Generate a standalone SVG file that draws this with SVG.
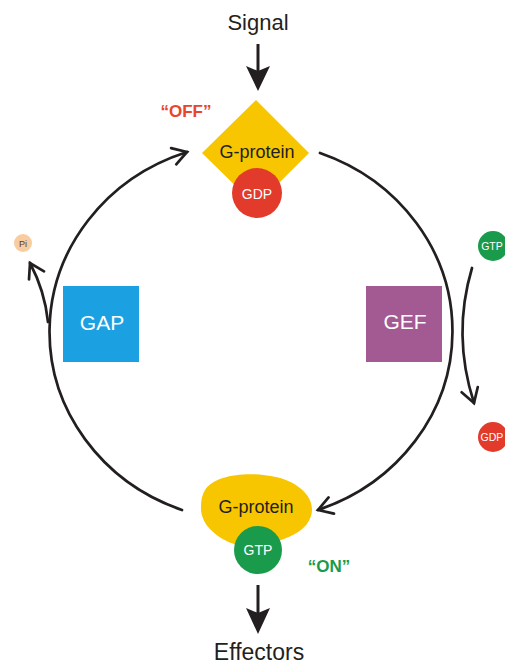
<svg xmlns="http://www.w3.org/2000/svg" width="505" height="664" viewBox="0 0 505 664">
<style>
.lbl{font-family:"Liberation Sans",Arial,sans-serif;text-anchor:middle;}
.dark{fill:#231f20;}
.white{fill:#ffffff;}
.conn{fill:none;stroke:#231f20;stroke-width:2.7;stroke-linecap:round;}
.shaft{fill:none;stroke:#231f20;stroke-width:3;}
.head{fill:#231f20;}
</style>
<defs>
<marker id="chev" markerUnits="userSpaceOnUse" viewBox="-18 -12 22 24" refX="0" refY="0" markerWidth="22" markerHeight="24" orient="auto">
<path d="M-14,-8.5 L0,0 L-14,8.5" fill="none" stroke="#231f20" stroke-width="2.7" stroke-linecap="round" stroke-linejoin="miter"/>
</marker>
</defs>
<rect width="505" height="664" fill="#ffffff"/>

<g id="connectors">
<path class="conn" d="M182,510 A203,190 0 0 1 187,152" marker-end="url(#chev)"/>
<path class="conn" d="M320,153 A203,190 0 0 1 318,510" marker-end="url(#chev)"/>
<path class="conn" d="M48,322 C46,302 40,282 30,263" marker-end="url(#chev)"/>
<path class="conn" d="M472,268 Q452,335 474,403" marker-end="url(#chev)"/>
<line class="shaft" x1="258" y1="44" x2="258" y2="72"/>
<polygon class="head" points="246,66 258,91 270,66 258,71"/>
<line class="shaft" x1="258" y1="585" x2="258" y2="614"/>
<polygon class="head" points="246,608 258,634 270,608 258,613"/>
</g>

<g id="signal"><text class="lbl dark" x="258" y="30" font-size="22">Signal</text></g>
<g id="effectors"><text class="lbl dark" x="259" y="660" font-size="23">Effectors</text></g>

<g id="off-label"><text class="lbl" x="186" y="117" font-size="17" font-weight="bold" fill="#e8452c">“OFF”</text></g>
<g id="on-label"><text class="lbl" x="329" y="572" font-size="17" font-weight="bold" fill="#1a9b4b">“ON”</text></g>

<g id="gprotein-off">
<polygon points="256,100 309,153 256,206 202,153" fill="#f7c600"/>
<text class="lbl dark" x="257" y="158" font-size="18">G-protein</text>
</g>
<g id="gdp-top">
<circle cx="257" cy="193" r="25" fill="#e23a2b"/>
<text class="lbl white" x="257" y="199" font-size="14">GDP</text>
</g>

<g id="gprotein-on">
<path d="M205,490 C215,474 250,471 276,477 C302,483 316,500 311,516 C307,529 294,536 278,541 L240,546 C220,541 200,526 201,507 C201,500 202,495 205,490 Z" fill="#f7c600"/>
<text class="lbl dark" x="256" y="513" font-size="18">G-protein</text>
</g>
<g id="gtp-bottom">
<circle cx="258" cy="550" r="24" fill="#1a9b4b"/>
<text class="lbl white" x="258" y="555" font-size="14">GTP</text>
</g>

<g id="gap">
<rect x="63" y="286" width="76" height="76" fill="#1ba1e2"/>
<text class="lbl white" x="102" y="330" font-size="21">GAP</text>
</g>
<g id="gef">
<rect x="366" y="286" width="76" height="76" fill="#a35a93"/>
<text class="lbl white" x="405" y="329" font-size="21">GEF</text>
</g>

<g id="pi">
<circle cx="23" cy="243" r="9" fill="#f8cc9f"/>
<text class="lbl" x="23" y="246.5" font-size="9" fill="#5a3a1e">Pi</text>
</g>
<g id="gtp-right">
<circle cx="493" cy="246" r="15" fill="#1a9b4b"/>
<text class="lbl white" x="492" y="250" font-size="10.5">GTP</text>
</g>
<g id="gdp-right">
<circle cx="493" cy="437" r="15" fill="#e23a2b"/>
<text class="lbl white" x="492" y="441" font-size="10.5">GDP</text>
</g>
</svg>
